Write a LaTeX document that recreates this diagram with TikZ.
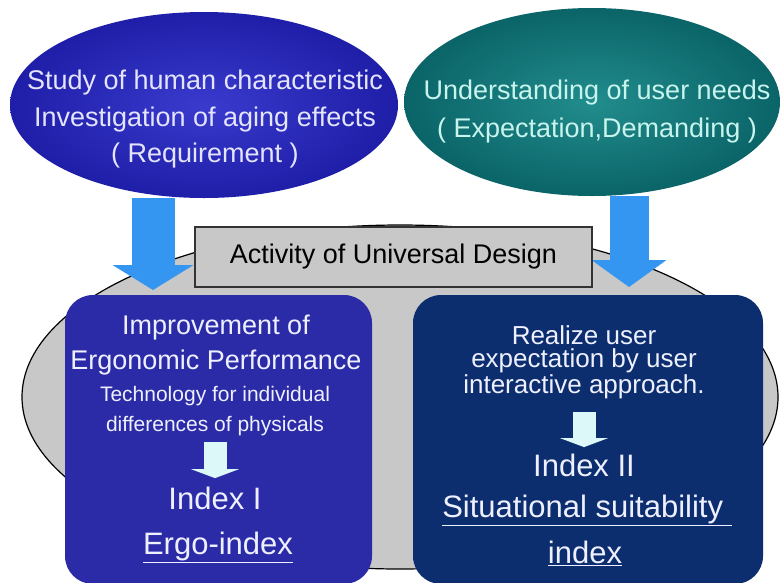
\documentclass[tikz,border=0pt]{standalone}
\usepackage{fontspec}
\setmainfont{Liberation Sans}
\usetikzlibrary{shapes.geometric,arrows.meta}
\definecolor{reqblue}{RGB}{30,30,168}
\definecolor{reqlight}{RGB}{58,58,205}
\definecolor{needteal}{RGB}{10,100,104}
\definecolor{needlight}{RGB}{34,140,140}
\definecolor{ergoblue}{RGB}{43,43,168}
\definecolor{situnavy}{RGB}{12,46,110}
\definecolor{flowblue}{RGB}{52,150,240}
\definecolor{udgray}{RGB}{200,200,200}
\definecolor{reqtext}{RGB}{228,228,255}
\definecolor{needtext}{RGB}{200,244,238}
\definecolor{paletext}{RGB}{238,240,255}
\definecolor{palearrow}{RGB}{220,248,248}

\begin{document}
\begin{tikzpicture}
  [x = 1pt, y = -1pt,
   blob/.style = {ellipse, minimum width = 388pt, minimum height = 186pt, inner sep = 0pt},
   txt/.style = {align = center, inner sep = 0pt, font = \fontsize{27}{35}\selectfont},
   smalltxt/.style = {align = center, inner sep = 0pt, font = \fontsize{21}{30}\selectfont},
   idxtxt/.style = {align = center, inner sep = 0pt, font = \fontsize{31}{40}\selectfont},
   panel/.style = {rounded corners = 28pt, minimum height = 289pt, inner sep = 0pt},
   bigarrow/.style = {draw = flowblue, line width = #1},
   smallarrow/.style = {draw = palearrow, line width = 23pt,
     -{Triangle[width = 48pt, length = 9pt, line width = 0pt]}}]
  \useasboundingbox (0,0) rectangle (781,582);
  \fill[white] (0,0) rectangle (781,582);

  \node[ellipse, minimum width = 756pt, minimum height = 344pt, fill = udgray,
    draw = black, line width = 1.2pt] (ud) at (400,397) {};

  \coordinate (reqtip) at (153,290);
  \coordinate (needtip) at (629,287);
  \node[blob] (req) at (204,105) {};
  \node[blob, minimum width = 376pt, minimum height = 188pt] (need) at (592,102) {};
  \draw[bigarrow = 43pt, -{Triangle[width = 81pt, length = 25pt, line width = 0pt]}]
    (req.south -| reqtip) -- (reqtip);
  \draw[bigarrow = 39pt, -{Triangle[width = 75pt, length = 27pt, line width = 0pt]}]
    (need.south -| needtip) -- (needtip);
  \node[blob, inner color = reqlight, outer color = reqblue] at (req) {};
  \node[blob, minimum width = 376pt, minimum height = 188pt,
    inner color = needlight, outer color = needteal] at (need) {};

  \node[txt, text = reqtext, font = \fontsize{27}{36.5}\selectfont] (reqtxt) at (205,119.5)
    {Study of human characteristic\\Investigation of aging effects\\( Requirement )};
  \node[txt, text = needtext, font = \fontsize{27}{38}\selectfont] (needtxt) at (597,112)
    {Understanding of user needs\\( Expectation,Demanding )};

  \node[panel, fill = ergoblue, minimum width = 307pt] (ergobox) at (218.5,439.5) {};
  \node[panel, fill = situnavy, minimum width = 350pt] (situbox) at (588,439.5) {};

  \node[draw = black!80, line width = 1.6pt, fill = udgray, minimum width = 397pt,
    minimum height = 60pt, inner sep = 0pt, font = \fontsize{27}{32}\selectfont]
    (ud) at (393.5,257) {Activity of Universal Design};

  \node[txt, text = paletext] (ergo) at (216,345.5)
    {Improvement of\\Ergonomic Performance};
  \node[smalltxt, text = paletext] (tech) at (215,411.5)
    {Technology for individual\\differences of physicals};
  \node[idxtxt, text = paletext] (idx1) at (215,498.7) {Index I};
  \node[idxtxt, text = paletext] (ergoidx) at (218,547) {\underline{Ergo-index}};
  \draw[smallarrow, shorten < = 6pt, shorten > = 9pt] (tech.south) -- (idx1.north);

  \node[txt, text = paletext, font = \fontsize{26}{23.5}\selectfont] (real) at (584,362)
    {Realize user\\expectation by user\\interactive approach.};
  \node[idxtxt, text = paletext] (idx2) at (584,465.7) {Index II};
  \node[idxtxt, text = paletext] (situ) at (587,510.5) {\underline{Situational suitability\ }};
  \node[idxtxt, text = paletext] (situidx) at (585,553) {\underline{index}};
  \draw[smallarrow, shorten < = 13pt, shorten > = 7pt] (real.south) -- (idx2.north);
\end{tikzpicture}
\end{document}
